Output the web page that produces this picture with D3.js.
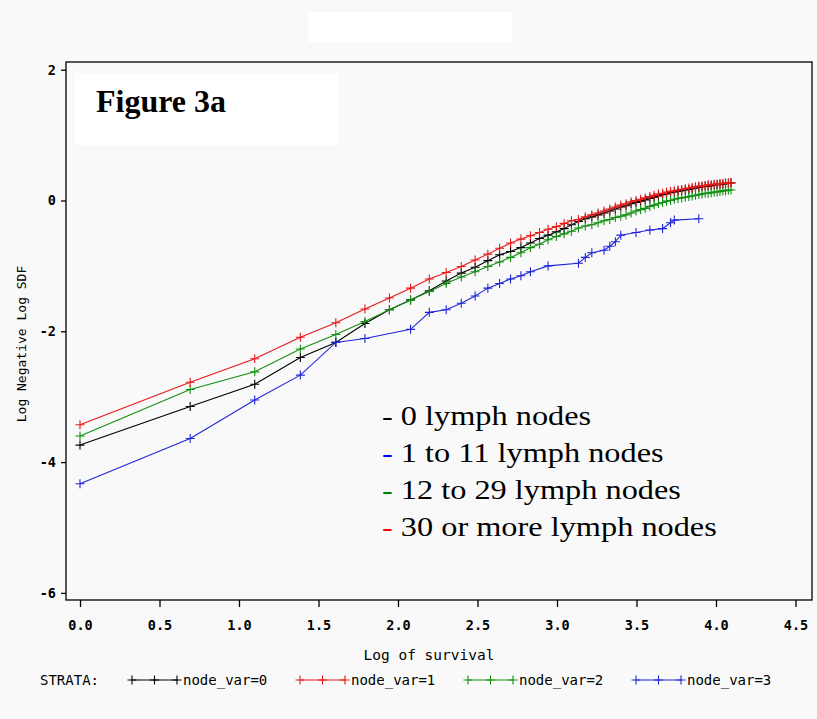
<!DOCTYPE html>
<html><head><meta charset="utf-8">
<script src="https://cdn.jsdelivr.net/npm/d3@7"></script>
<style>body{margin:0;background:#f9f9f9}svg{display:block}</style>
</head><body><div id="chart"></div>
<script>
// log of survival time (t = 1..60)
const logTimes = [0.000,0.693,1.099,1.386,1.609,1.792,1.946,2.079,2.197,2.303,2.398,2.485,2.565,2.639,2.708,2.773,2.833,2.890,2.944,2.996,3.045,3.091,3.135,3.178,3.219,3.258,3.296,3.332,3.367,3.401,3.434,3.466,3.497,3.526,3.555,3.584,3.611,3.638,3.664,3.689,3.714,3.738,3.761,3.784,3.807,3.829,3.850,3.871,3.892,3.912,3.932,3.951,3.970,3.989,4.007,4.025,4.043,4.060,4.078,4.094];
const node0 = [-3.74,-3.15,-2.81,-2.40,-2.17,-1.88,-1.67,-1.52,-1.38,-1.23,-1.11,-1.02,-0.92,-0.83,-0.78,-0.72,-0.65,-0.58,-0.53,-0.48,-0.43,-0.37,-0.32,-0.28,-0.25,-0.22,-0.19,-0.16,-0.13,-0.10,-0.08,-0.05,-0.03,-0.01,0.01,0.03,0.05,0.07,0.09,0.10,0.12,0.13,0.14,0.15,0.16,0.17,0.18,0.19,0.20,0.21,0.22,0.22,0.23,0.24,0.24,0.25,0.25,0.26,0.26,0.27];
const node1 = [-3.43,-2.78,-2.42,-2.09,-1.87,-1.66,-1.49,-1.34,-1.20,-1.10,-1.01,-0.91,-0.82,-0.73,-0.65,-0.59,-0.54,-0.49,-0.44,-0.40,-0.35,-0.31,-0.29,-0.25,-0.22,-0.19,-0.16,-0.13,-0.10,-0.07,-0.05,-0.02,0.00,0.02,0.04,0.06,0.08,0.10,0.11,0.13,0.14,0.15,0.16,0.17,0.18,0.19,0.20,0.21,0.22,0.22,0.23,0.24,0.24,0.25,0.25,0.26,0.26,0.27,0.27,0.27];
const node2 = [-3.60,-2.89,-2.62,-2.27,-2.05,-1.85,-1.67,-1.52,-1.39,-1.27,-1.17,-1.09,-1.01,-0.94,-0.87,-0.80,-0.72,-0.67,-0.60,-0.55,-0.51,-0.47,-0.42,-0.39,-0.37,-0.34,-0.31,-0.29,-0.26,-0.24,-0.22,-0.19,-0.16,-0.14,-0.12,-0.09,-0.07,-0.05,-0.03,-0.01,0.00,0.02,0.03,0.04,0.05,0.06,0.07,0.08,0.09,0.10,0.11,0.11,0.12,0.13,0.13,0.14,0.15,0.15,0.16,0.16];
// node_var=3 only has event times at some t
const node3X = [0.000,0.693,1.099,1.386,1.609,1.792,2.079,2.197,2.303,2.398,2.485,2.565,2.639,2.708,2.773,2.833,2.944,3.135,3.178,3.219,3.296,3.332,3.367,3.401,3.497,3.584,3.664,3.714,3.738,3.892];
const node3 = [-4.33,-3.64,-3.05,-2.67,-2.17,-2.11,-1.97,-1.71,-1.67,-1.57,-1.46,-1.34,-1.27,-1.20,-1.15,-1.09,-1.00,-0.96,-0.87,-0.80,-0.76,-0.70,-0.63,-0.53,-0.49,-0.45,-0.43,-0.34,-0.30,-0.28];
const xTicks = [0,0.5,1,1.5,2,2.5,3,3.5,4,4.5];
const yTicks = [2,0,-2,-4,-6];
const strata = ["node_var=0","node_var=1","node_var=2","node_var=3"];
const colors = ["#000000","#e81818","#139013","#2026d8"];
const noteLabels = ["0 lymph nodes","1 to 11 lymph nodes","12 to 29 lymph nodes","30 or more lymph nodes"];
const noteColors = ["#000000","#0000ff","#008000","#ff0000"];

const W = 817, H = 719;
const svg = d3.select("#chart").append("svg").attr("width", W).attr("height", H);
svg.append("rect").attr("width", W).attr("height", H).attr("fill", "#f9f9f9");
svg.append("rect").attr("x", 308).attr("y", 12).attr("width", 204).attr("height", 30).attr("fill", "#ffffff");

const frame = {l: 66, t: 62, r: 812, b: 600};
const x = d3.scaleLinear().domain([0, 4.5]).range([80, 795.5]);
const y = d3.scaleLinear().domain([-6, 2]).range([592.9, 69.7]);

svg.append("rect").attr("x", frame.l).attr("y", frame.t)
  .attr("width", frame.r - frame.l).attr("height", frame.b - frame.t)
  .attr("fill", "none").attr("stroke", "#000").attr("stroke-width", 1.3);

svg.append("rect").attr("x", 75).attr("y", 73).attr("width", 263).attr("height", 72).attr("fill", "#ffffff");
svg.append("text").attr("x", 96).attr("y", 112).text("Figure 3a")
  .attr("font-family", "Liberation Serif, Times New Roman, serif").attr("font-weight", "bold")
  .attr("font-size", 32).attr("fill", "#000");

// axes
const xAxis = svg.append("g").attr("transform", `translate(0,${frame.b})`)
  .call(d3.axisBottom(x).tickValues(xTicks).tickFormat(d3.format(".1f")).tickSize(7).tickPadding(13));
const yAxis = svg.append("g").attr("transform", `translate(${frame.l},0)`)
  .call(d3.axisLeft(y).tickValues(yTicks).tickFormat(d => d < 0 ? "-" + Math.abs(d) : d).tickSize(5).tickPadding(5));
[xAxis, yAxis].forEach(g => {
  g.select(".domain").remove();
  g.selectAll("line").attr("stroke", "#000").attr("stroke-width", 1.3);
  g.selectAll("text").attr("font-family", "DejaVu Sans Mono, monospace").attr("font-weight", "bold")
    .attr("font-size", 13.5).attr("fill", "#000");
});

svg.append("text").attr("x", 429).attr("y", 660).attr("text-anchor", "middle")
  .attr("font-family", "DejaVu Sans Mono, monospace").attr("font-size", 14.5).text("Log of survival");
svg.append("text").attr("transform", "translate(26,344) rotate(-90)").attr("text-anchor", "middle")
  .attr("font-family", "DejaVu Sans Mono, monospace").attr("font-size", 13).text("Log Negative Log SDF");

// series
const series = [
  {xs: logTimes, ys: node0, c: colors[0]},
  {xs: logTimes, ys: node2, c: colors[2]},
  {xs: logTimes, ys: node1, c: colors[1]},
  {xs: node3X, ys: node3, c: colors[3]}
];
const line = d3.line().x(d => x(d[0])).y(d => y(d[1]));
function plusPath(s) { return `M${-s},0H${s}M0,${-s}V${s}`; }
series.forEach(s => {
  const pts = s.xs.map((v, i) => [v, s.ys[i]]);
  const g = svg.append("g");
  g.append("path").attr("d", line(pts)).attr("fill", "none").attr("stroke", s.c).attr("stroke-width", 1.1);
  g.selectAll("path.m").data(pts).join("path").attr("class", "m")
    .attr("transform", d => `translate(${x(d[0])},${y(d[1])})`)
    .attr("d", plusPath(4.5)).attr("stroke", s.c).attr("stroke-width", 1.1).attr("fill", "none");
});

// in-plot note
const note = svg.append("g").attr("transform", "translate(382,0) scale(1.22,1) translate(-382,0)")
  .attr("font-family", "Liberation Serif, Times New Roman, serif").attr("font-size", 26.5);
noteLabels.forEach((t, i) => {
  const tx = note.append("text").attr("x", 382).attr("y", 425.5 + i * 36.7);
  tx.append("tspan").attr("fill", noteColors[i]).text("-");
  tx.append("tspan").attr("fill", "#000").text(" " + t);
});

// bottom legend
const lg = svg.append("g").attr("font-family", "DejaVu Sans Mono, monospace").attr("font-size", 14);
lg.append("text").attr("x", 40).attr("y", 685).text("STRATA:");
const legX = [132, 300, 468, 636];
strata.forEach((s, i) => {
  const x0 = legX[i];
  lg.append("line").attr("x1", x0).attr("x2", x0 + 45).attr("y1", 680).attr("y2", 680)
    .attr("stroke", colors[i]).attr("stroke-width", 1.1);
  [0, 22.5, 45].forEach(o => lg.append("path").attr("transform", `translate(${x0 + o},680)`)
    .attr("d", plusPath(4.5)).attr("stroke", colors[i]).attr("stroke-width", 1.1));
  lg.append("text").attr("x", x0 + 51).attr("y", 685).text(s);
});
</script></body></html>
